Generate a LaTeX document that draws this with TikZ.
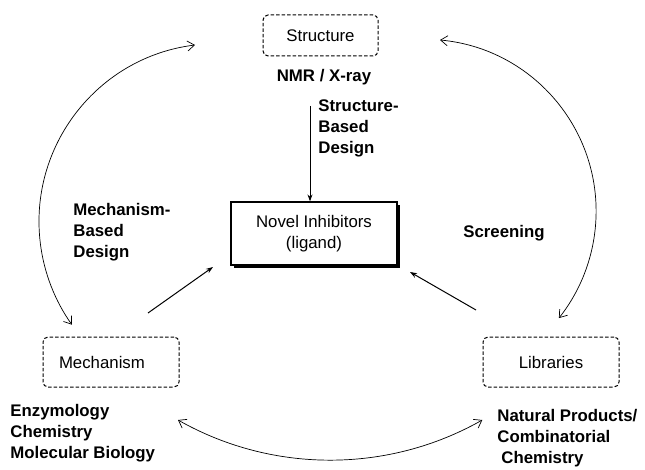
\documentclass[tikz,border=0pt]{standalone}
\usepackage{fontspec}
\setmainfont{Liberation Sans}
\usetikzlibrary{arrows.meta, shadows}

\begin{document}
\begin{tikzpicture}[x=1pt, y=-1pt, line width=0.8pt,
            every node/.style={font=\fontsize{16.8}{21}\selectfont},
            dashbox/.style={draw, line width=1pt, rounded corners=5pt, dash pattern=on 3.5pt off 2pt, minimum width=136pt, minimum height=50pt},
            captext/.style={font=\fontsize{16.8}{21}\selectfont\bfseries, align=left, anchor=west, inner sep=0pt},
            loopline/.style={line width=0.7pt, {Straight Barb[length=7pt,width=10pt]}-{Straight Barb[length=7pt,width=10pt]}},
            inarrow/.style={line width=1pt, -{Stealth[length=7pt,width=5pt]}}]
            \useasboundingbox (0, 0) rectangle (645, 470);
            \node[dashbox, minimum width=115pt, minimum height=41pt] (struct) at (320.5, 35.5) {Structure};
            \node[captext, anchor=center] (nmr) at (324, 77) {NMR / X-ray};
            \node[draw, line width=1.2pt, fill=white, minimum width=166pt, minimum height=63pt, align=center,
                drop shadow={shadow xshift=3pt, shadow yshift=-3pt, opacity=1, fill=black}] (novel) at (314, 233.5) {Novel Inhibitors\\(ligand)};
            \node[dashbox, text width=104pt, inner xsep=16pt, align=left] (mech) at (111, 362) {Mechanism};
            \node[dashbox] (lib) at (551, 362) {Libraries};
            \node[captext] (sbd) at (318, 128.5) {Structure-\\Based\\Design};
            \node[captext] (mbd) at (73, 232) {Mechanism-\\Based\\Design};
            \node[captext] (scr) at (463, 233) {Screening};
            \node[captext] (enz) at (10, 433) {Enzymology\\Chemistry\\Molecular Biology};
            \node[captext] (nat) at (497, 438.5) {Natural Products/\\Combinatorial\\\hspace*{4pt}Chemistry};
            \coordinate (sbdtop) at (310, 106);
            \coordinate (mechout) at (148, 313);
            \coordinate (novelsw) at (213, 267);
            \coordinate (libout) at (476, 310);
            \coordinate (novelse) at (410, 272);
            \coordinate (lefttop) at (195, 45);
            \coordinate (righttop) at (440, 40);
            \coordinate (botleft) at (178, 420);
            \draw[inarrow] (sbdtop) -- (sbdtop |- novel.north);
            \draw[inarrow] (mechout) -- (novelsw);
            \draw[inarrow] (libout) -- (novelse);
            \draw[loopline] (lefttop) arc[start angle=262.9, end angle=144.6, radius=178];
            \draw[loopline] (righttop) arc[start angle=-84.7, end angle=38.4, radius=172];
            \draw[loopline] (botleft) arc[start angle=119.5, end angle=60.5, radius=309];
        \end{tikzpicture}
\end{document}
